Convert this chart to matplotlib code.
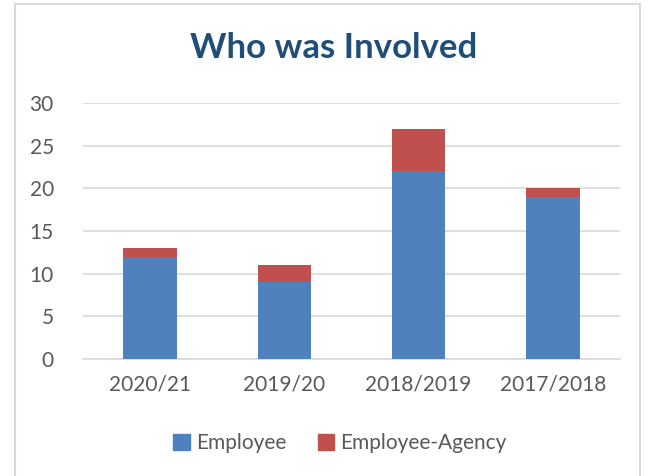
import matplotlib
matplotlib.use("Agg")
import matplotlib.pyplot as plt
from matplotlib.patches import Rectangle, Patch

categories = ["2020/21", "2019/20", "2018/2019", "2017/2018"]
employee = [12, 9, 22, 19]
agency = [1, 2, 5, 1]
yticks = [0, 5, 10, 15, 20, 25, 30]

plt.rcParams['font.family'] = ['Lato', 'DejaVu Sans']

fig = plt.figure(figsize=(6.51, 4.76), dpi=100)
ax = fig.add_axes([83/651, 1-359/476, (620-83)/651, (359-103)/476])

x = list(range(len(categories)))
blue = "#4F81BD"
red = "#C0504D"
ax.bar(x, employee, width=0.4, color=blue, zorder=3)
ax.bar(x, agency, width=0.4, bottom=employee, color=red, zorder=3)

ax.set_xlim(-0.5, len(categories)-0.5)
ax.set_ylim(0, 30)
ax.set_yticks(yticks)
ax.set_xticks(x)
ax.set_xticklabels(categories)
ax.grid(axis='y', color='#D9D9D9', linewidth=1.2, zorder=0)
for s in ['top', 'right', 'left']:
    ax.spines[s].set_visible(False)
ax.spines['bottom'].set_color('#D9D9D9')
ax.spines['bottom'].set_linewidth(1.2)
ax.tick_params(axis='both', length=0, labelsize=15, colors='#595959')
ax.tick_params(axis='y', pad=21)
ax.tick_params(axis='x', pad=11)

fig.text(334/651, 1-48/476, "Who was Involved", ha='center', va='center',
         fontsize=25, fontweight='bold', color='#1F4E79')

handles = [Patch(color=blue, label="Employee"), Patch(color=red, label="Employee-Agency")]
fig.legend(handles=handles, loc='center', bbox_to_anchor=(340/651, 1-443/476), ncol=2,
           frameon=False, fontsize=15, handlelength=0.8, handleheight=0.8,
           handletextpad=0.3, columnspacing=1.5, labelcolor='#595959')

fig.patches.append(Rectangle((15/651, -0.05), (640-15)/651, 1.05-4/476,
                             transform=fig.transFigure, fill=False,
                             edgecolor='#D9D9D9', linewidth=1.5))

fig.savefig("out.png", dpi=100)
